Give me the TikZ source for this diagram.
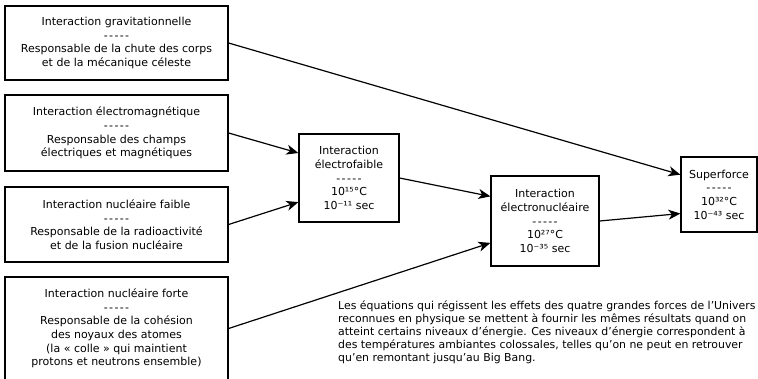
\documentclass[tikz,border=0pt]{standalone}
\usepackage{fontspec}
\setmainfont{DejaVu Sans}[Ligatures=TeXOff]
\usetikzlibrary{arrows.meta,calc}

\newcommand{\tirets}{-\kern1.3pt-\kern1.3pt-\kern1.3pt-\kern1.3pt-}

\tikzset{
    force/.style={draw, line width=1.2pt, align=center, inner sep=2pt,
        font=\fontsize{11}{13.6}\selectfont},
    arr/.style={line width=1.2pt, -{Stealth[length=12pt,width=10pt,inset=3.5pt]}}
}

\begin{document}
\begin{tikzpicture}[x=1pt,y=-1pt]
        \clip (0,0) rectangle (758,378);
        \node[force, minimum width=223pt, minimum height=74pt] (grav) at (116.5,43)
            {Interaction gravitationnelle\\\tirets\\Responsable de la chute des corps\\et de la mécanique céleste};
        \node[force, minimum width=223pt, minimum height=76pt] (em) at (116.5,133)
            {Interaction électromagnétique\\\tirets\\Responsable des champs\\électriques et magnétiques};
        \node[force, minimum width=223pt, minimum height=75pt] (faible) at (116.5,224.5)
            {Interaction nucléaire faible\\\tirets\\Responsable de la radioactivité\\et de la fusion nucléaire};
        \node[force, minimum width=223pt, minimum height=103pt] (forte) at (116.5,328.5)
            {Interaction nucléaire forte\\\tirets\\Responsable de la cohésion\\des noyaux des atomes\\(la «~colle~» qui maintient\\protons et neutrons ensemble)};
        \node[force, minimum width=100pt, minimum height=88pt] (ef) at (349,178)
            {Interaction\\électrofaible\\\tirets\\10¹⁵°C\\10⁻¹¹ sec};
        \node[force, minimum width=108pt, minimum height=90pt] (en) at (545,221)
            {Interaction\\électronucléaire\\\tirets\\10²⁷°C\\10⁻³⁵ sec};
        \node[force, minimum width=76pt, minimum height=75pt] (sf) at (719,194.5)
            {Superforce\\\tirets\\10³²°C\\10⁻⁴³ sec};
        % note
        \node[anchor=north west, align=left, inner sep=0pt, font=\fontsize{10.9}{12.8}\selectfont] (note) at (338,301)
            {Les équations qui régissent les effets des quatre grandes forces de l’Univers\\
             reconnues en physique se mettent à fournir les mêmes résultats quand on\\
             atteint certains niveaux d’énergie. Ces niveaux d’énergie correspondent à\\
             des températures ambiantes colossales, telles qu’on ne peut en retrouver\\
             qu’en remontant jusqu’au Big Bang.};
        \draw[arr] (grav.east) -- ($(sf.north west)!.24!(sf.south west)$);
        \draw[arr] (em.east) -- ($(ef.north west)!.22!(ef.south west)$);
        \draw[arr] (faible.east) -- ($(ef.north west)!.77!(ef.south west)$);
        \draw[arr] (ef.east) -- ($(en.north west)!.23!(en.south west)$);
        \draw[arr] (forte.east) -- ($(en.north west)!.74!(en.south west)$);
        \draw[arr] (en.east) -- ($(sf.north west)!.75!(sf.south west)$);
    \end{tikzpicture}
\end{document}
